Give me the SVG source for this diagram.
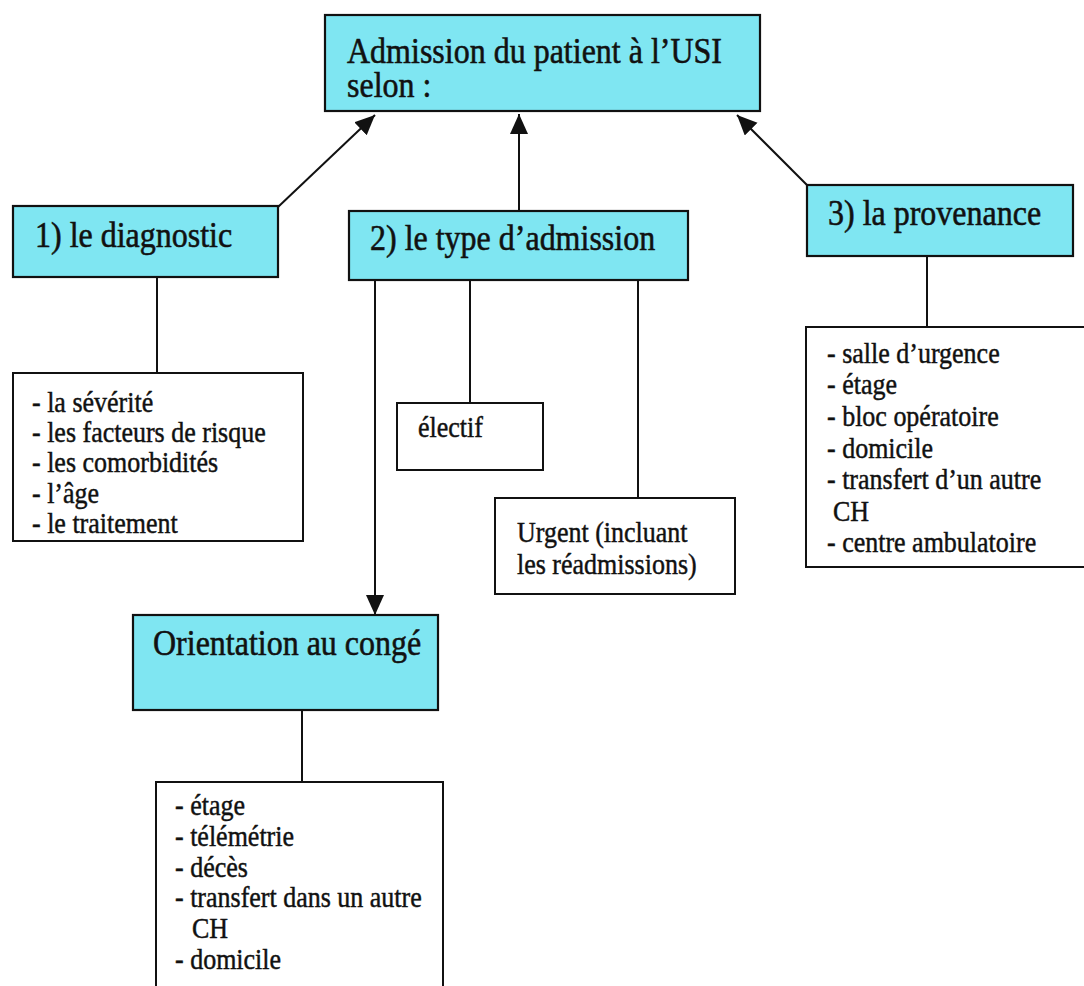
<svg xmlns="http://www.w3.org/2000/svg" width="1084" height="986" viewBox="0 0 1084 986">
  <style>
    .hd { fill: #7fe6f2; stroke: #111; stroke-width: 2.2; }
    .bx { fill: #fff; stroke: #111; stroke-width: 2; }
    .ht { font-family: 'Liberation Serif', 'DejaVu Serif', serif; font-size: 32px; fill: #111; stroke: #111; stroke-width: 0.5; }
    .lt { font-family: 'Liberation Serif', 'DejaVu Serif', serif; font-size: 26px; fill: #111; stroke: #111; stroke-width: 0.4; }
    .cn { stroke: #111; stroke-width: 2; fill: none; }
  </style>
  <defs>
    <marker id="arr" markerUnits="userSpaceOnUse" markerWidth="22" markerHeight="20" refX="20" refY="9" orient="auto">
      <path d="M0,0 L20,9 L0,18 Z" fill="#111"/>
    </marker>
  </defs>
  <rect width="1084" height="986" fill="#fff"/>

  <g id="connectors">
    <line class="cn" x1="278" y1="207" x2="375" y2="115" marker-end="url(#arr)"/>
    <line class="cn" x1="519" y1="211" x2="519" y2="114" marker-end="url(#arr)"/>
    <line class="cn" x1="807" y1="185" x2="737" y2="115" marker-end="url(#arr)"/>
    <line class="cn" x1="157" y1="277" x2="157" y2="373"/>
    <line class="cn" x1="375" y1="280" x2="375" y2="615" marker-end="url(#arr)"/>
    <line class="cn" x1="470" y1="280" x2="470" y2="403"/>
    <line class="cn" x1="638" y1="280" x2="638" y2="498"/>
    <line class="cn" x1="927" y1="256" x2="927" y2="327"/>
    <line class="cn" x1="302" y1="710" x2="302" y2="782"/>
  </g>

  <g id="admission">
    <rect class="hd" x="325" y="15" width="435" height="96"/>
    <text class="ht" transform="translate(347,63) scale(1,1.12)">Admission du patient à l’USI</text>
    <text class="ht" transform="translate(347,97) scale(1,1.12)">selon :</text>
  </g>

  <g id="diagnostic">
    <rect class="hd" x="13" y="206" width="265" height="71"/>
    <text class="ht" transform="translate(35,247) scale(1,1.15)">1) le diagnostic</text>
  </g>

  <g id="type">
    <rect class="hd" x="349" y="211" width="339" height="69"/>
    <text class="ht" transform="translate(370,250) scale(1,1.15)">2) le type d’admission</text>
  </g>

  <g id="provenance">
    <rect class="hd" x="807" y="185" width="266" height="71"/>
    <text class="ht" transform="translate(828,225) scale(1,1.15)">3) la provenance</text>
  </g>

  <g id="diag-list">
    <rect class="bx" x="13" y="373" width="290" height="168"/>
    <text class="lt" transform="translate(32,412) scale(1,1.15)">
      <tspan x="0" y="0">- la sévérité</tspan>
      <tspan x="0" dy="26.3">- les facteurs de risque</tspan>
      <tspan x="0" dy="26.3">- les comorbidités</tspan>
      <tspan x="0" dy="26.3">- l’âge</tspan>
      <tspan x="0" dy="26.3">- le traitement</tspan>
    </text>
  </g>

  <g id="electif">
    <rect class="bx" x="397" y="403" width="146" height="67"/>
    <text class="lt" transform="translate(418,437) scale(1,1.15)">électif</text>
  </g>

  <g id="urgent">
    <rect class="bx" x="495" y="498" width="240" height="96"/>
    <text class="lt" transform="translate(517,542) scale(1,1.15)">
      <tspan x="0" y="0">Urgent (incluant</tspan>
      <tspan x="0" dy="27.8">les réadmissions)</tspan>
    </text>
  </g>

  <g id="prov-list">
    <rect class="bx" x="806" y="327" width="290" height="240"/>
    <text class="lt" transform="translate(827,363) scale(1,1.15)">
      <tspan x="0" y="0">- salle d’urgence</tspan>
      <tspan x="0" dy="27.4">- étage</tspan>
      <tspan x="0" dy="27.4">- bloc opératoire</tspan>
      <tspan x="0" dy="27.4">- domicile</tspan>
      <tspan x="0" dy="27.4">- transfert d’un autre</tspan>
      <tspan x="6" dy="27.4">CH</tspan>
      <tspan x="0" dy="27.4">- centre ambulatoire</tspan>
    </text>
  </g>

  <g id="orientation">
    <rect class="hd" x="133" y="615" width="305" height="95"/>
    <text class="ht" transform="translate(153,655) scale(1,1.15)">Orientation au congé</text>
  </g>

  <g id="orient-list">
    <rect class="bx" x="156" y="782" width="287" height="230"/>
    <text class="lt" transform="translate(175,815) scale(1,1.15)">
      <tspan x="0" y="0">- étage</tspan>
      <tspan x="0" dy="26.8">- télémétrie</tspan>
      <tspan x="0" dy="26.8">- décès</tspan>
      <tspan x="0" dy="26.8">- transfert dans un autre</tspan>
      <tspan x="17" dy="26.8">CH</tspan>
      <tspan x="0" dy="26.8">- domicile</tspan>
    </text>
  </g>
</svg>
